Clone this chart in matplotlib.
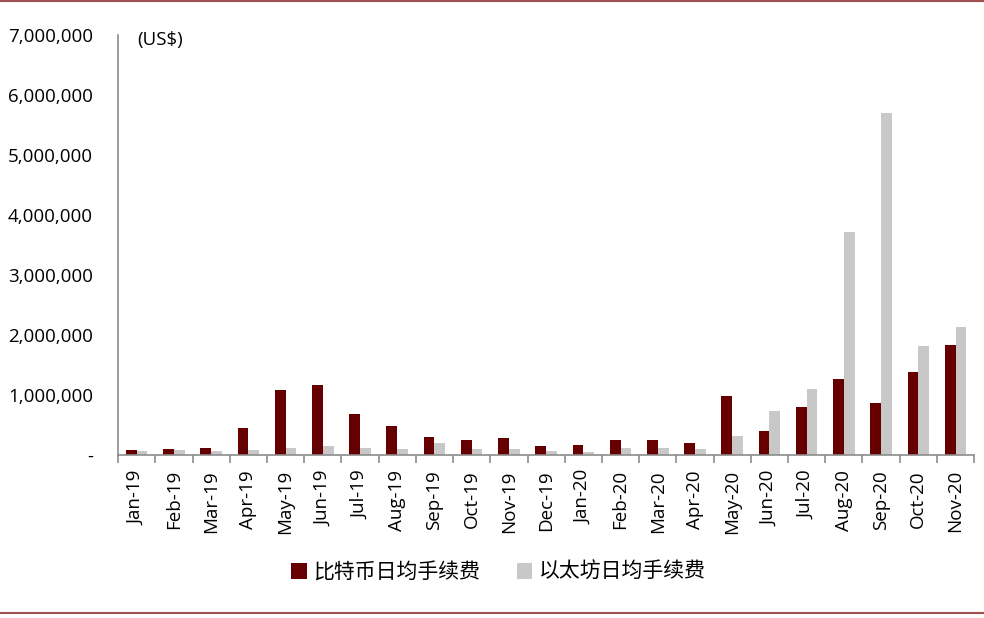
import matplotlib
matplotlib.use("Agg")
import matplotlib.pyplot as plt
from matplotlib.lines import Line2D
from matplotlib.ticker import FuncFormatter
import numpy as np

plt.rcParams['font.family'] = ['Open Sans', 'Noto Sans CJK SC', 'DejaVu Sans']

months = ["Jan-19", "Feb-19", "Mar-19", "Apr-19", "May-19", "Jun-19",
          "Jul-19", "Aug-19", "Sep-19", "Oct-19", "Nov-19", "Dec-19",
          "Jan-20", "Feb-20", "Mar-20", "Apr-20", "May-20", "Jun-20",
          "Jul-20", "Aug-20", "Sep-20", "Oct-20", "Nov-20"]
btc_fee = [78000, 100000, 122000, 456000, 1077000, 1165000,
           677000, 478000, 300000, 256000, 278000, 145000,
           160000, 250000, 250000, 205000, 982000, 404000,
           804000, 1270000, 870000, 1381000, 1830000]
eth_fee = [60000, 80000, 60000, 80000, 122000, 145000,
           122000, 100000, 195000, 100000, 100000, 60000,
           50000, 122000, 122000, 93000, 316000, 737000,
           1092000, 3716000, 5707000, 1824000, 2135000]
btc_label = "比特币日均手续费"
eth_label = "以太坊日均手续费"

fig = plt.figure(figsize=(9.84, 6.18), dpi=100)
ax = fig.add_axes([0.12, 0.2638, 0.87, 0.6796])

x = np.arange(len(months))
w = 0.29
ax.bar(x - w / 2, btc_fee, w, color="#660000", label=btc_label)
ax.bar(x + w / 2, eth_fee, w, color="#c8c8c8", label=eth_label)

ax.set_xlim(-0.5, len(months) - 0.5)
ax.set_ylim(0, 7000000)
ax.set_yticks(np.arange(0, 7000001, 1000000))
ax.yaxis.set_major_formatter(FuncFormatter(lambda v, p: "-" if v == 0 else f"{int(v):,}"))
ax.tick_params(axis="y", length=0, labelsize=13.5, pad=18, colors="black")

ax.set_xticks(x)
ax.set_xticklabels(months, rotation=90, fontsize=13.5)
ax.tick_params(axis="x", length=0, pad=11)
ax.set_xticks(np.arange(-0.5, len(months), 1), minor=True)
ax.tick_params(axis="x", which="minor", length=6, color="#8c8c8c", width=1.2)

for s in ["top", "right"]:
    ax.spines[s].set_visible(False)
for s in ["left", "bottom"]:
    ax.spines[s].set_color("#8c8c8c")
    ax.spines[s].set_linewidth(1.2)

ax.text(0.022, 0.988, "(US$)", transform=ax.transAxes, fontsize=13.5, va="center", ha="left")

leg = fig.legend(loc="center", bbox_to_anchor=(0.5066, 0.074), ncol=2, frameon=False,
                 handlelength=0.75, handleheight=0.75, handletextpad=0.3,
                 columnspacing=1.75, prop={"family": ["Noto Sans CJK SC"], "size": 15})

fig.add_artist(Line2D([0, 1], [0.9985, 0.9985], color="#a05050", lw=1.5, transform=fig.transFigure))
fig.add_artist(Line2D([0, 1], [0.008, 0.008], color="#a05050", lw=1.5, transform=fig.transFigure))

fig.savefig("out.png", dpi=100)
